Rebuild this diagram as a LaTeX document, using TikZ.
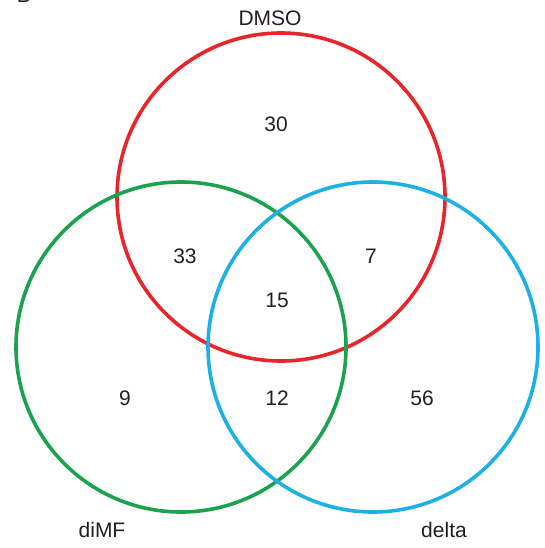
\documentclass[tikz,border=0pt]{standalone}
\usepackage{fontspec}
\setmainfont{Liberation Sans}
\definecolor{setred}{HTML}{E8252B}
\definecolor{setgreen}{HTML}{1BA24C}
\definecolor{setblue}{HTML}{1CB0E6}
\definecolor{labelgray}{HTML}{231F20}
\begin{document}
\begin{tikzpicture}[x=1pt,y=-1pt,
  setcircle/.style={line width=3.6pt},
  lbl/.style={text=labelgray,font=\fontsize{21}{24}\selectfont,inner sep=0pt}]
\useasboundingbox (0,0) rectangle (545,548);
% panel letter, mostly above the page edge
\node[lbl,anchor=base] (panel) at (24,3) {B};
% the three sets
\draw[setcircle,setred]   (281,197) circle[radius=164pt];
\draw[setcircle,setgreen] (181,347) circle[radius=165pt];
\draw[setcircle,setblue]  (373,347) circle[radius=165pt];
% set names
\node[lbl] (dmso)  at (270,18)  {DMSO};
\node[lbl] (dimf)  at (102,530) {diMF};
\node[lbl] (delta) at (444,530) {delta};
% region counts
\node[lbl] (onlyD)  at (276,124) {30};
\node[lbl] (DM)     at (185,256) {33};
\node[lbl] (Dd)     at (371,256) {7};
\node[lbl] (all)    at (277,300) {15};
\node[lbl] (onlyM)  at (125,398) {9};
\node[lbl] (Md)     at (277,398) {12};
\node[lbl] (onlyd)  at (422,398) {56};
\end{tikzpicture}
\end{document}
